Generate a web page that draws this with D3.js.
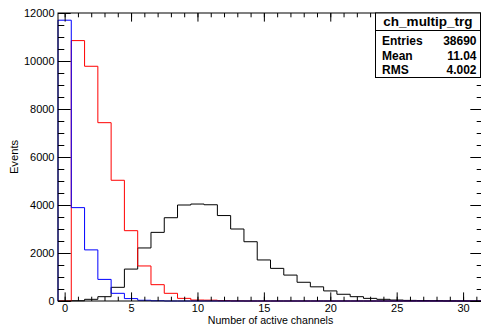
<!DOCTYPE html>
<html>
<head>
<meta charset="utf-8">
<script src="https://cdn.jsdelivr.net/npm/d3@7"></script>
<style>
  html, body { margin: 0; padding: 0; background: #fff; }
  svg { display: block; font-family: "Liberation Sans", Arial, sans-serif; }
</style>
</head>
<body>
<div id="chart"></div>
<script>
// Histogram ch_multip_trg: unit-width bins centred on 0..31
const binCenters = d3.range(0, 32);
const blackCounts = [0, 10, 70, 180, 570, 1330, 2210, 2860, 3470, 4000, 4040, 4010,
                     3560, 3000, 2470, 1710, 1360, 1080, 780, 590, 420, 280, 180, 110,
                     70, 40, 25, 20, 15, 5, 0, 0];
const redCounts   = [0, 10850, 9780, 7430, 5030, 2930, 1460, 680, 320, 110, 40, 35,
                     15, 5, 0, 0, 0, 0, 0, 0, 0, 0, 0, 0, 0, 0, 0, 0, 0, 0, 0, 0];
const blueCounts  = [11700, 3890, 2130, 900, 320, 100, 30, 10, 0, 0, 0, 0,
                     0, 0, 0, 0, 0, 0, 0, 0, 0, 0, 0, 0, 0, 0, 0, 0, 0, 0, 0, 0];
const xTicks = [0, 5, 10, 15, 20, 25, 30];
const yTicks = [0, 2000, 4000, 6000, 8000, 10000, 12000];
const statLabels = ["Entries", "Mean", "RMS"];
const statValues = ["38690", "11.04", "4.002"];

const W = 481, H = 326;
const frame = { left: 58, right: 483, top: 13, bottom: 301 };

const x = d3.scaleLinear().domain([-0.5, 31.5]).range([frame.left, frame.right]);
const y = d3.scaleLinear().domain([0, 12000]).range([frame.bottom, frame.top]);

const svg = d3.select('#chart').append('svg')
    .attr('width', W)
    .attr('height', H);

// histogram outline, ROOT style (starts and ends on the baseline)
function outline(counts) {
    const pts = [[x(-0.5), y(0)]];
    counts.forEach((v, i) => {
        pts.push([x(binCenters[i] - 0.5), y(v)]);
        pts.push([x(binCenters[i] + 0.5), y(v)]);
    });
    pts.push([x(31.5), y(0)]);
    return d3.line()(pts);
}

const plot = svg.append('g');
[[blackCounts, '#000000'], [redCounts, '#ff0000'], [blueCounts, '#0000ff']].forEach(([c, col]) => {
    plot.append('path')
        .attr('d', outline(c))
        .attr('fill', 'none')
        .attr('stroke', col)
        .attr('stroke-width', 1);
});

// ── Axes (ticks pointing inward) ──────────────────────────────────────────
const xMinor = d3.range(0, 32, 1);
const yMinor = d3.range(0, 12001, 500);

function styleAxis(g) {
    g.select('.domain').remove();
    g.selectAll('line').attr('stroke', '#000').attr('stroke-width', 1);
    g.selectAll('text').attr('fill', '#000').style('font-size', '11px')
        .style('font-family', '"Liberation Sans", Arial, sans-serif');
}

// bottom
svg.append('g').attr('transform', `translate(0,${frame.bottom})`)
    .call(d3.axisBottom(x).tickValues(xMinor).tickSize(-4.3).tickFormat(''))
    .call(styleAxis);
svg.append('g').attr('transform', `translate(0,${frame.bottom})`)
    .call(d3.axisBottom(x).tickValues(xTicks).tickSize(-8.6).tickPadding(3).tickFormat(d3.format('d')))
    .call(styleAxis);
// top
svg.append('g').attr('transform', `translate(0,${frame.top})`)
    .call(d3.axisTop(x).tickValues(xMinor).tickSize(-4.3).tickFormat(''))
    .call(styleAxis);
svg.append('g').attr('transform', `translate(0,${frame.top})`)
    .call(d3.axisTop(x).tickValues(xTicks).tickSize(-8.6).tickFormat(''))
    .call(styleAxis);
// left
svg.append('g').attr('transform', `translate(${frame.left},0)`)
    .call(d3.axisLeft(y).tickValues(yMinor).tickSize(-6.3).tickFormat(''))
    .call(styleAxis);
svg.append('g').attr('transform', `translate(${frame.left},0)`)
    .call(d3.axisLeft(y).tickValues(yTicks).tickSize(-12.7).tickPadding(3.5).tickFormat(d3.format('d')))
    .call(styleAxis);
// right
svg.append('g').attr('transform', `translate(${frame.right},0)`)
    .call(d3.axisRight(y).tickValues(yMinor).tickSize(-6.3).tickFormat(''))
    .call(styleAxis);
svg.append('g').attr('transform', `translate(${frame.right},0)`)
    .call(d3.axisRight(y).tickValues(yTicks).tickSize(-12.7).tickFormat(''))
    .call(styleAxis);

// frame
svg.append('rect')
    .attr('x', frame.left).attr('y', frame.top)
    .attr('width', frame.right - frame.left).attr('height', frame.bottom - frame.top)
    .attr('fill', 'none').attr('stroke', '#000').attr('stroke-width', 1);

// axis titles
svg.append('text')
    .attr('x', (frame.left + frame.right) / 2)
    .attr('y', 323.6)
    .attr('text-anchor', 'middle')
    .style('font-size', '10.6px')
    .text('Number of active channels');

svg.append('text')
    .attr('transform', `translate(18,${(frame.top + frame.bottom) / 2}) rotate(-90)`)
    .attr('text-anchor', 'middle')
    .style('font-size', '11.2px')
    .text('Events');

// ── Stat box ──────────────────────────────────────────────────────────────
const box = { x0: 375.5, x1: 480.5, y0: 13, y1: 77.5, sep: 30.5 };
const stat = svg.append('g');
stat.append('rect')
    .attr('x', box.x0).attr('y', box.y0)
    .attr('width', box.x1 - box.x0).attr('height', box.y1 - box.y0)
    .attr('fill', '#fff').attr('stroke', '#000').attr('stroke-width', 1);
stat.append('line')
    .attr('x1', box.x0).attr('x2', box.x1)
    .attr('y1', box.sep).attr('y2', box.sep)
    .attr('stroke', '#000');
stat.append('text')
    .attr('x', (box.x0 + box.x1) / 2).attr('y', 26)
    .attr('text-anchor', 'middle')
    .style('font-size', '13.5px').style('font-weight', 'bold')
    .text('ch_multip_trg');
statLabels.forEach((lab, i) => {
    const yy = 45 + i * 14.5;
    stat.append('text').attr('x', 382).attr('y', yy)
        .style('font-size', '12px').style('font-weight', 'bold').text(lab);
    stat.append('text').attr('x', 476.5).attr('y', yy).attr('text-anchor', 'end')
        .style('font-size', '12px').style('font-weight', 'bold').text(statValues[i]);
});
</script>
</body>
</html>
